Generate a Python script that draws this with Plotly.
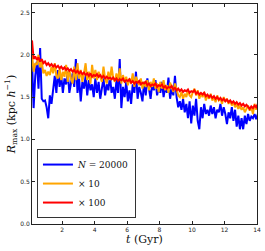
import plotly.graph_objects as go

t_start = 0.15
t_step = 0.1

r_n20000 = [
    1.95, 1.37, 1.75, 1.92, 1.60, 2.08, 1.48, 1.45, 1.46, 1.38,
    1.25, 1.52, 1.42, 1.58, 1.75, 1.55, 1.82, 1.62, 1.75, 1.55,
    1.72, 1.65, 1.80, 1.55, 1.70, 1.78, 1.62, 1.95, 1.55, 1.72,
    1.45, 1.68, 1.60, 1.75, 1.52, 1.70, 1.58, 1.65, 1.50, 1.72,
    1.55, 1.68, 1.48, 1.62, 1.72, 1.52, 1.65, 1.58, 1.75, 1.55,
    1.62, 1.48, 1.70, 1.55, 1.95, 1.37, 1.62, 1.50, 1.68, 1.45,
    1.58, 1.42, 1.65, 1.55, 1.80, 1.48, 1.62, 1.55, 1.45, 1.68,
    1.52, 1.72, 1.60, 1.48, 1.65, 1.58, 1.70, 1.52, 1.62, 1.55,
    1.68, 1.50, 1.62, 1.55, 1.73, 1.48, 1.60, 1.52, 1.75, 1.50,
    1.38, 1.45, 1.35, 1.48, 1.32, 1.42, 1.25, 1.45, 1.19, 1.40,
    1.28, 1.48, 1.22, 1.12, 1.38, 1.25, 1.42, 1.30, 1.35, 1.28,
    1.40, 1.30, 1.38, 1.25, 1.35, 1.32, 1.42, 1.28, 1.38, 1.30,
    1.18, 1.32, 1.25, 1.38, 1.22, 1.35, 1.15, 1.28, 1.12, 1.25,
    1.12, 1.28, 1.18, 1.30, 1.22, 1.27, 1.25, 1.30, 1.24, 1.30,
]

r_x10 = [
    2.00, 1.80, 1.90, 1.88, 2.00, 1.85, 1.92, 1.78, 1.82, 1.75,
    1.80, 1.76, 1.86, 1.78, 1.90, 1.75, 1.72, 1.84, 1.70, 1.80,
    1.74, 1.88, 1.68, 1.82, 1.72, 1.66, 1.86, 1.70, 1.90, 1.72,
    1.82, 1.68, 1.78, 1.90, 1.70, 1.80, 1.66, 1.88, 1.72, 1.82,
    1.70, 1.80, 1.74, 1.68, 1.86, 1.72, 1.66, 1.80, 1.70, 1.86,
    1.72, 1.68, 1.78, 1.70, 1.84, 1.66, 1.76, 1.68, 1.74, 1.64,
    1.72, 1.66, 1.78, 1.62, 1.74, 1.68, 1.64, 1.72, 1.60, 1.68,
    1.62, 1.70, 1.58, 1.68, 1.62, 1.72, 1.60, 1.66, 1.56, 1.68,
    1.60, 1.70, 1.58, 1.64, 1.55, 1.67, 1.60, 1.56, 1.66, 1.58,
    1.52, 1.50, 1.56, 1.48, 1.54, 1.50, 1.58, 1.52, 1.50, 1.56,
    1.60, 1.52, 1.58, 1.48, 1.54, 1.50, 1.56, 1.46, 1.52, 1.48,
    1.54, 1.46, 1.50, 1.44, 1.52, 1.46, 1.48, 1.42, 1.50, 1.45,
    1.48, 1.42, 1.46, 1.40, 1.44, 1.38, 1.42, 1.36, 1.40, 1.35,
    1.38, 1.32, 1.36, 1.40, 1.34, 1.38, 1.30, 1.42, 1.35, 1.40,
]

r_x100 = [
    2.17, 1.95, 1.98, 1.94, 1.97, 1.92, 1.95, 1.90, 1.92, 1.88,
    1.90, 1.87, 1.89, 1.86, 1.88, 1.85, 1.87, 1.84, 1.86, 1.83,
    1.85, 1.82, 1.84, 1.81, 1.83, 1.80, 1.82, 1.79, 1.81, 1.78,
    1.80, 1.77, 1.79, 1.76, 1.78, 1.75, 1.78, 1.74, 1.76, 1.75,
    1.77, 1.74, 1.76, 1.73, 1.75, 1.72, 1.74, 1.72, 1.73, 1.71,
    1.73, 1.70, 1.72, 1.69, 1.71, 1.70, 1.72, 1.68, 1.70, 1.69,
    1.71, 1.67, 1.69, 1.66, 1.68, 1.67, 1.69, 1.65, 1.67, 1.66,
    1.68, 1.64, 1.66, 1.63, 1.65, 1.64, 1.66, 1.62, 1.64, 1.63,
    1.65, 1.61, 1.63, 1.60, 1.62, 1.61, 1.63, 1.59, 1.61, 1.58,
    1.60, 1.57, 1.59, 1.56, 1.58, 1.57, 1.59, 1.55, 1.57, 1.56,
    1.58, 1.54, 1.56, 1.53, 1.55, 1.53, 1.55, 1.51, 1.53, 1.50,
    1.52, 1.49, 1.51, 1.48, 1.50, 1.47, 1.49, 1.46, 1.48, 1.45,
    1.47, 1.44, 1.46, 1.43, 1.45, 1.42, 1.44, 1.41, 1.43, 1.40,
    1.42, 1.39, 1.41, 1.38, 1.36, 1.39, 1.37, 1.40, 1.38, 1.42,
]

series_names = ["<i>N</i> = 20000", "× 10", "× 100"]
series_colors = ["#0000ff", "#ffa500", "#ff0000"]
x_ticks = [2, 4, 6, 8, 10, 12, 14]
y_ticks = [0.0, 0.5, 1.0, 1.5, 2.0, 2.5]

fig = go.Figure()
for name, vals, col in zip(series_names, [r_n20000, r_x10, r_x100], series_colors):
    fig.add_trace(go.Scatter(
        x0=t_start, dx=t_step, y=vals, mode="lines", name=name,
        line=dict(color=col, width=2),
    ))

axis_common = dict(
    showgrid=False, zeroline=False, showline=True, linecolor="#222",
    linewidth=1, mirror="ticks", ticks="inside", ticklen=3, tickcolor="#222",
    tickfont=dict(family="DejaVu Sans", size=6, color="#222"),
)

fig.update_layout(
    width=265, height=251,
    margin=dict(l=32, r=8, t=4, b=27),
    paper_bgcolor="white", plot_bgcolor="white",
    showlegend=True,
    legend=dict(
        x=0.022, y=0.027, xanchor="left", yanchor="bottom",
        bgcolor="white", bordercolor="#333", borderwidth=1,
        font=dict(family="DejaVu Serif", size=9, color="#111"),
        tracegroupgap=0, itemwidth=30,
    ),
    xaxis=dict(
        range=[0.15, 14], tickvals=x_ticks, ticktext=[str(v) for v in x_ticks],
        title=dict(text="<i>t</i> (Gyr)", font=dict(family="DejaVu Serif", size=11, color="#111"), standoff=2),
        **axis_common,
    ),
    yaxis=dict(
        range=[0, 2.6], tickvals=y_ticks, ticktext=[f"{v:.1f}" for v in y_ticks],
        title=dict(text="<i>R</i><sub>max</sub> (kpc <i>h</i><sup>−1</sup>)", font=dict(family="DejaVu Serif", size=11, color="#111"), standoff=2),
        **axis_common,
    ),
)

fig.write_html(
    "out.html",
    config={"displayModeBar": False},
    post_script="document.body.style.margin='0';document.body.style.padding='0';",
)
